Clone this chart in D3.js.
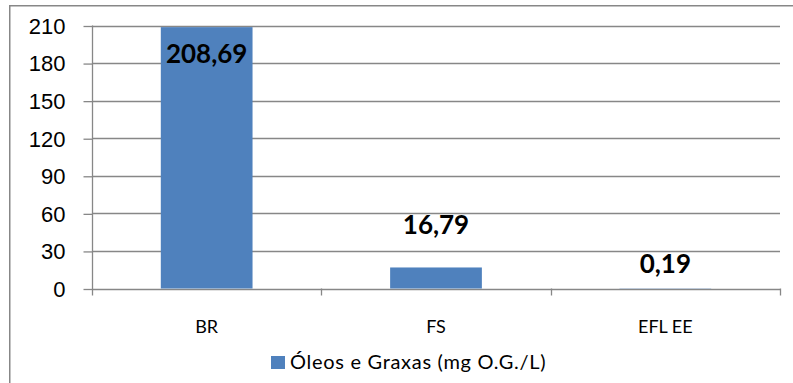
<!DOCTYPE html>
<html>
<head>
<meta charset="utf-8">
<script src="https://cdn.jsdelivr.net/npm/d3@7"></script>
<style>
  html, body { margin: 0; padding: 0; background: #fff; }
  svg { display: block; font-family: Lato, "Open Sans", sans-serif; }
</style>
</head>
<body>
<svg id="chart" width="793" height="383"></svg>
<script>
// Óleos e Graxas por ponto de amostragem
const categories = ["BR", "FS", "EFL EE"];
const values = [208.69, 16.79, 0.19];
const valueLabels = ["208,69", "16,79", "0,19"];
const yTicks = [0, 30, 60, 90, 120, 150, 180, 210];
const seriesName = "Óleos e Graxas (mg O.G./L)";

const svg = d3.select("#chart");
const W = 793, H = 383;
const plot = { left: 92, right: 780, top: 25.5, bottom: 288.5 };
const barColor = "#4F81BD";
const gridColor = "#878787";

// outer chart frame
svg.append("rect")
  .attr("x", 9.75).attr("y", 5.75)
  .attr("width", W + 10).attr("height", H + 10)
  .attr("fill", "#fff")
  .attr("stroke", gridColor).attr("stroke-width", 1.5);

const x = d3.scaleBand()
  .domain(categories)
  .range([plot.left, plot.right])
  .paddingInner(0.6)
  .paddingOuter(0.3);

const y = d3.scaleLinear()
  .domain([0, 210])
  .range([plot.bottom, plot.top]);

// horizontal gridlines
svg.append("g")
  .selectAll("line")
  .data(yTicks.filter(d => d > 0))
  .join("line")
  .attr("x1", plot.left).attr("x2", plot.right)
  .attr("y1", d => Math.round(y(d)) + 0.5).attr("y2", d => Math.round(y(d)) + 0.5)
  .attr("stroke", gridColor).attr("stroke-width", 1.3);

// y axis
const yAxis = d3.axisLeft(y)
  .tickValues(yTicks)
  .tickSize(9)
  .tickPadding(18)
  .tickFormat(d3.format("d"));
const gy = svg.append("g")
  .attr("transform", `translate(${plot.left + 0.5},0)`)
  .call(yAxis);
gy.select(".domain").remove();
gy.append("line")
  .attr("x1", 0).attr("x2", 0)
  .attr("y1", plot.top).attr("y2", plot.bottom + 7)
  .attr("stroke", gridColor).attr("stroke-width", 1.3);
gy.selectAll(".tick line").attr("stroke", gridColor).attr("stroke-width", 1.3)
  .attr("transform", "translate(0,0.5)");
gy.selectAll(".tick text")
  .attr("fill", "#000")
  .style("font-size", "22px")
  .attr("dy", "0.36em");

// x axis: ticks sit on the category boundaries
const boundaries = categories.map(c => x(c) - x.step() * x.paddingInner() / 2)
  .concat([plot.right]);
const gx = svg.append("g");
gx.append("line")
  .attr("x1", plot.left).attr("x2", plot.right)
  .attr("y1", Math.round(plot.bottom) + 0.5).attr("y2", Math.round(plot.bottom) + 0.5)
  .attr("stroke", gridColor).attr("stroke-width", 1.3);
gx.selectAll("line.tick")
  .data(boundaries.slice(1))
  .join("line")
  .attr("class", "tick")
  .attr("x1", d => Math.round(d) + 0.5).attr("x2", d => Math.round(d) + 0.5)
  .attr("y1", plot.bottom).attr("y2", plot.bottom + 7)
  .attr("stroke", gridColor).attr("stroke-width", 1.3);
gx.selectAll("text")
  .data(categories)
  .join("text")
  .attr("x", d => x(d) + x.bandwidth() / 2)
  .attr("y", 333)
  .attr("text-anchor", "middle")
  .style("font-size", "18px")
  .text(d => d);

// bars
svg.append("g")
  .selectAll("rect")
  .data(values)
  .join("rect")
  .attr("x", (d, i) => x(categories[i]))
  .attr("width", x.bandwidth())
  .attr("y", d => y(d))
  .attr("height", d => y(0) - y(d))
  .attr("fill", barColor);

// value labels (baseline offset from the bar top)
const labelDy = [36, -33, -15];
svg.append("g")
  .selectAll("text")
  .data(values)
  .join("text")
  .attr("x", (d, i) => x(categories[i]) + x.bandwidth() / 2)
  .attr("y", (d, i) => y(d) + labelDy[i])
  .attr("text-anchor", "middle")
  .style("font-size", "26px")
  .style("font-weight", "bold")
  .text((d, i) => valueLabels[i]);

// legend
const lg = svg.append("g").attr("transform", "translate(271,356)");
lg.append("rect").attr("width", 14).attr("height", 13).attr("fill", barColor);
lg.append("text")
  .attr("x", 19).attr("y", 13.3)
  .style("font-size", "20px")
  .style("letter-spacing", "0.7px")
  .text(seriesName);
</script>
</body>
</html>
